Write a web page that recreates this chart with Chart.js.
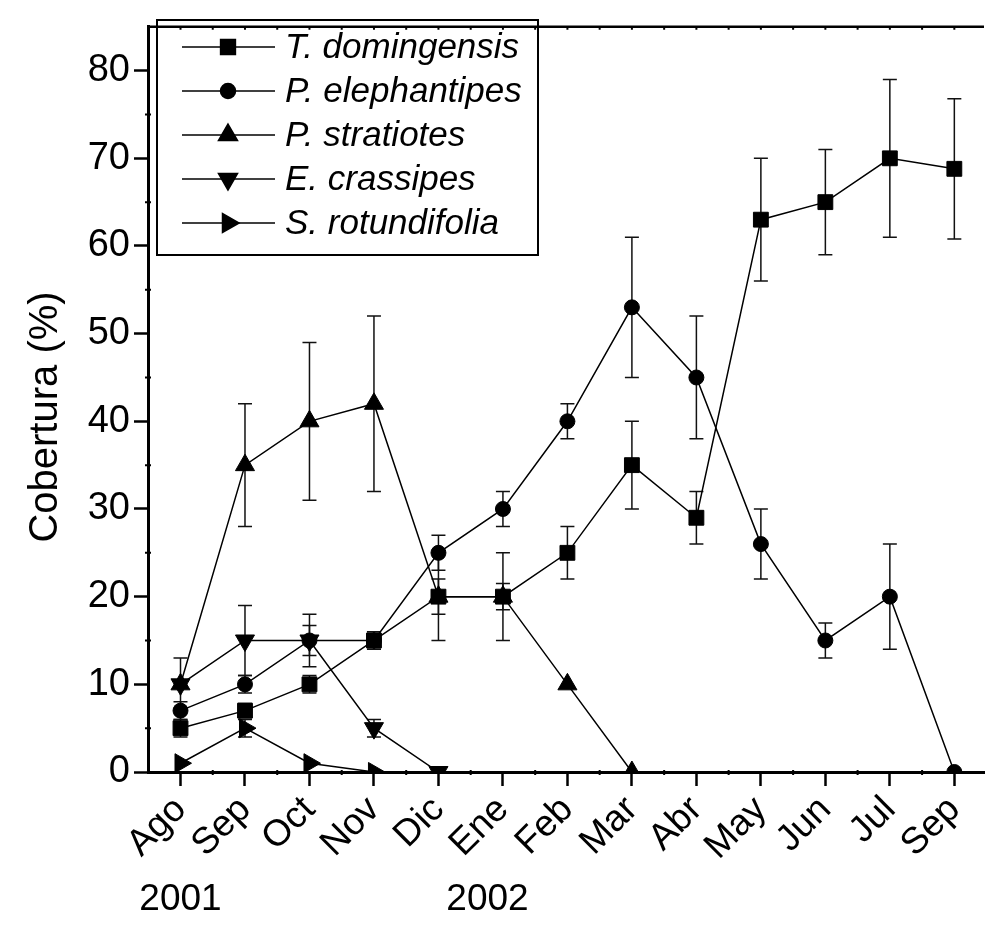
<!DOCTYPE html>
<html>
<head>
<meta charset="utf-8">
<script src="https://cdn.jsdelivr.net/npm/chart.js@4.4.0/dist/chart.umd.min.js"></script>
<style>
  html, body { margin: 0; padding: 0; background: #fff; overflow: hidden; }
  #wrap { width: 996px; height: 925px; }
</style>
</head>
<body>
<div id="wrap"><canvas id="grafica" width="996" height="925"></canvas></div>
<script>
// datos
var meses = ['Ago','Sep','Oct','Nov','Dic','Ene','Feb','Mar','Abr','May','Jun','Jul','Sep'];
var anios = ['2001','2002'];
var tituloY = 'Cobertura (%)';

var tDom    = [5, 7, 10, 15, 20, 20, 25, 35, 29, 63, 65, 70, 68.8];
var tDomErr = [1, 0.8, 1, 1, 2, 5, 3, 5, 3, 7, 6, 9, 8];
var pEle    = [7, 10, 15, 15, 25, 30, 40, 53, 45, 26, 15, 20, 0];
var pEleErr = [1, 1, 1.7, 1, 2, 2, 2, 8, 7, 4, 2, 6, 0];
var pStr    = [10, 35, 40, 42, 20, 20, 10, 0, null, null, null, null, null];
var pStrErr = [3, 7, 9, 10, 5, 1.5, 0, 0, null, null, null, null, null];
var eCra    = [10, 15, 15, 5, 0, null, null, null, null, null, null, null, null];
var eCraErr = [0, 4, 3, 1, 0, null, null, null, null, null, null, null, null];
var sRot    = [1, 5, 1, 0, null, null, null, null, null, null, null, null, null];
var sRotErr = [0, 1, 0, 0, null, null, null, null, null, null, null, null, null];

var ticksY = [0, 10, 20, 30, 40, 50, 60, 70, 80];

var fuente = '"Liberation Sans", Arial, sans-serif';

function puntos(valores) {
    return valores.map(function (v, i) { return { x: i + 1, y: v }; });
}

function serie(nombre, valores, errores, estilo, radio, rotacion) {
    return {
        label: nombre,
        data: puntos(valores),
        errores: errores,
        borderColor: '#000',
        borderWidth: 1.5,
        backgroundColor: '#000',
        pointStyle: estilo,
        pointRadius: radio,
        pointRotation: rotacion,
        pointBackgroundColor: '#000',
        pointBorderColor: '#000',
        pointBorderWidth: 1,
        spanGaps: false,
        tension: 0
    };
}

var datasets = [
    serie('T. domingensis', tDom, tDomErr, 'rect', 10.5, 0),
    serie('P. elephantipes', pEle, pEleErr, 'circle', 7.5, 0),
    serie('P. stratiotes', pStr, pStrErr, 'triangle', 11, 0),
    serie('E. crassipes', eCra, eCraErr, 'triangle', 11, 180),
    serie('S. rotundifolia', sRot, sRotErr, 'triangle', 11, 90)
];

// barras de error debajo de las series
var barrasError = {
    id: 'barrasError',
    beforeDatasetsDraw: function (chart) {
        var ctx = chart.ctx, x = chart.scales.x, y = chart.scales.y;
        ctx.save();
        ctx.strokeStyle = '#111';
        ctx.lineWidth = 1.5;
        chart.data.datasets.forEach(function (ds) {
            ds.data.forEach(function (p, i) {
                var e = ds.errores[i];
                if (p.y === null || !e) return;
                var px = x.getPixelForValue(p.x);
                var top = y.getPixelForValue(p.y + e);
                var bot = y.getPixelForValue(Math.max(0, p.y - e));
                ctx.beginPath();
                ctx.moveTo(px, top); ctx.lineTo(px, bot);
                ctx.moveTo(px - 7, top); ctx.lineTo(px + 7, top);
                if (p.y - e >= 0) { ctx.moveTo(px - 7, bot); ctx.lineTo(px + 7, bot); }
                ctx.stroke();
            });
        });
        ctx.restore();
    }
};

// marco superior, ticks menores, titulo, leyenda y anios
var extras = {
    id: 'extras',
    afterDraw: function (chart) {
        var ctx = chart.ctx, a = chart.chartArea, x = chart.scales.x, y = chart.scales.y;
        ctx.save();
        ctx.strokeStyle = '#000';
        ctx.lineWidth = 2.5;
        ctx.beginPath();
        ctx.moveTo(a.left, a.top); ctx.lineTo(a.right, a.top);
        ctx.stroke();

        ctx.lineWidth = 2;
        ctx.beginPath();
        for (var v = 1; v <= 13.5; v += 0.5) {
            var px = x.getPixelForValue(v);
            if (px > a.right) break;
            ctx.moveTo(px, a.top); ctx.lineTo(px, a.top + 3);
            if (v % 1 !== 0) { ctx.moveTo(px, a.bottom - 2); ctx.lineTo(px, a.bottom + 3); }
        }
        for (var w = 5; w < 85; w += 10) {
            var py = y.getPixelForValue(w);
            ctx.moveTo(a.left - 3, py); ctx.lineTo(a.left + 3, py);
        }
        ctx.stroke();

        // titulo del eje y
        ctx.save();
        ctx.translate(46, 417);
        ctx.rotate(-Math.PI / 2);
        ctx.font = '40px ' + fuente;
        ctx.fillStyle = '#000';
        ctx.textAlign = 'center';
        ctx.textBaseline = 'middle';
        ctx.fillText(tituloY, 0, 0);
        ctx.restore();

        // leyenda
        ctx.lineWidth = 2;
        ctx.strokeRect(157, 20, 381, 235);
        ctx.font = 'italic 35px ' + fuente;
        ctx.textBaseline = 'middle';
        ctx.textAlign = 'left';
        chart.data.datasets.forEach(function (ds, i) {
            var fy = 47 + i * 44;
            ctx.strokeStyle = '#000';
            ctx.lineWidth = 1.5;
            ctx.beginPath();
            ctx.moveTo(182, fy); ctx.lineTo(275, fy);
            ctx.stroke();
            ctx.fillStyle = '#000';
            Chart.helpers.drawPoint(ctx, {
                pointStyle: ds.pointStyle,
                radius: ds.pointRadius,
                rotation: ds.pointRotation,
                borderWidth: 1
            }, 228, fy);
            ctx.fillStyle = '#000';
            ctx.fillText(ds.label, 285, fy + 1);
        });

        // anios
        ctx.font = '37px ' + fuente;
        ctx.textAlign = 'center';
        ctx.textBaseline = 'alphabetic';
        ctx.fillText(anios[0], x.getPixelForValue(1), 910);
        ctx.fillText(anios[1], x.getPixelForValue(5.76), 910);
        ctx.restore();
    }
};

var ctx = document.getElementById('grafica');
var mychart = new Chart(ctx, {
    type: 'line',
    data: { datasets: datasets },
    plugins: [barrasError, extras],
    options: {
        responsive: false,
        animation: false,
        events: [],
        layout: { padding: { top: 12, left: 0, right: 0, bottom: 0 } },
        plugins: { legend: { display: false }, tooltip: { enabled: false } },
        scales: {
            x: {
                type: 'linear',
                min: 0.496,
                max: 13.46,
                afterBuildTicks: function (s) {
                    s.ticks = meses.map(function (m, i) { return { value: i + 1 }; });
                },
                afterFit: function (s) { s.height = 153; },
                ticks: {
                    callback: function (v) { return meses[v - 1]; },
                    minRotation: 45,
                    maxRotation: 45,
                    autoSkip: false,
                    padding: 2,
                    color: '#000',
                    font: { family: fuente, size: 37 }
                },
                grid: { drawOnChartArea: false, drawTicks: true, tickLength: 14, tickWidth: 2.5, tickColor: '#000' },
                border: { display: true, width: 3, color: '#000' }
            },
            y: {
                min: 0,
                max: 85,
                afterBuildTicks: function (s) {
                    s.ticks = ticksY.map(function (v) { return { value: v }; });
                },
                afterFit: function (s) { s.width = 148; },
                ticks: {
                    padding: 4,
                    color: '#000',
                    font: { family: fuente, size: 38 }
                },
                grid: { drawOnChartArea: false, drawTicks: true, tickLength: 14, tickWidth: 2.5, tickColor: '#000' },
                border: { display: true, width: 3, color: '#000' }
            }
        }
    }
});
</script>
</body>
</html>
